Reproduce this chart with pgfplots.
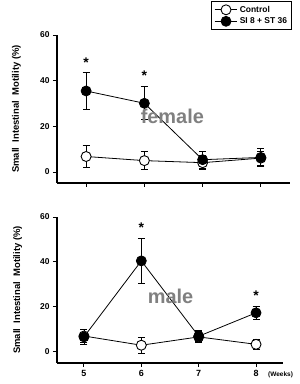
\documentclass[border=0pt]{standalone}
\usepackage{pgfplots}
\pgfplotsset{compat=1.18}
\usepackage{fontspec}
\setmainfont{Liberation Sans}
\begin{document}
\begin{tikzpicture}
\useasboundingbox (0,0) rectangle (300bp,384bp);
\pgfplotsset{
  every axis/.style={
    scale only axis,
    axis x line=bottom, axis y line=left,
    axis line style={-, line width=1.2pt},
    tick align=outside, major tick length=4bp,
    tick style={line width=1pt, black},
    /pgf/number format/assume math mode=true,
    ymax=60,
    ytick={0,20,40,60}, xtick={5,6,7,8},
    yticklabel style={font=\bfseries\fontsize{8.5}{9}\selectfont},
    xticklabel style={font=\bfseries\fontsize{9}{10}\selectfont},
    ylabel={Small\ \ Intestinal\ \ Motility (\%)},
    ylabel style={font=\bfseries\fontsize{9.5}{10}\selectfont, at={(axis description cs:-0.174,0.5)}, anchor=center},
    clip=false,
  },
  ctrl/.style={black, line width=0.8pt, mark=*, mark size=5bp, mark options={fill=white, line width=0.9pt},
    error bars/.cd, y dir=both, y explicit, error bar style={line width=0.8pt}, error mark options={rotate=90, mark size=3.5bp, line width=0.8pt}},
  trt/.style={black, line width=0.8pt, mark=*, mark size=5bp, mark options={fill=black},
    error bars/.cd, y dir=both, y explicit, error bar style={line width=0.8pt}, error mark options={rotate=90, mark size=3.5bp, line width=0.8pt}},
}
% Female (top)
\begin{axis}[at={(57bp,201bp)}, anchor=south west, width=233bp, height=148bp,
  xmin=4.5, xmax=8.5, ymin=-4.8, xticklabels={},
  legend style={at={(1.009,1.23)}, anchor=north east, draw=black, line width=1.1pt,
    font=\bfseries\fontsize{8.5}{10}\selectfont, row sep=0pt, inner sep=2.5pt},
  legend cell align=left,
  legend image code/.code={\draw[mark repeat=2,mark phase=2,#1] plot coordinates {(0cm,0cm) (0.4cm,0cm) (0.8cm,0cm)};},
]
\addplot+[ctrl] coordinates {(5,6.8) +- (0,4.7) (6,5.0) +- (0,4.0) (7,4.1) +- (0,3.0) (8,6.1) +- (0,3.0)};
\addlegendentry{Control}
\addplot+[trt] coordinates {(5,35.5) +- (0,8.0) (6,30.1) +- (0,7.2) (7,5.4) +- (0,3.6) (8,6.4) +- (0,3.8)};
\addlegendentry{SI 8 + ST 36}
\node[font=\bfseries\fontsize{14}{14}\selectfont] at (axis cs:5,47.8) {*};
\node[font=\bfseries\fontsize{14}{14}\selectfont] at (axis cs:6,42.2) {*};
\node[font=\bfseries\fontsize{20}{20}\selectfont, text=black!50] at (axis cs:6.48,24.3) {female};
\end{axis}
% Male (bottom)
\begin{axis}[at={(57bp,21bp)}, anchor=south west, width=226bp, height=146bp,
  xmin=4.53, xmax=8.47, ymin=-4.9,
]
\addplot+[ctrl] coordinates {(5,7.1) +- (0,3.0) (6,3.0) +- (0,3.7) (7,6.7) +- (0,2.5) (8,3.4) +- (0,2.4)};
\addplot+[trt] coordinates {(5,6.7) +- (0,3.5) (6,40.5) +- (0,10.2) (7,7.0) +- (0,2.5) (8,17.4) +- (0,2.7)};
\node[font=\bfseries\fontsize{14}{14}\selectfont] at (axis cs:6,55.2) {*};
\node[font=\bfseries\fontsize{14}{14}\selectfont] at (axis cs:8,25.2) {*};
\node[font=\bfseries\fontsize{20}{20}\selectfont, text=black!50] at (axis cs:6.51,24.6) {male};
\end{axis}
\node[anchor=west, font=\bfseries\fontsize{6.5}{7}\selectfont, inner sep=0pt] at (268bp,9bp) {(Weeks)};
\end{tikzpicture}
\end{document}
